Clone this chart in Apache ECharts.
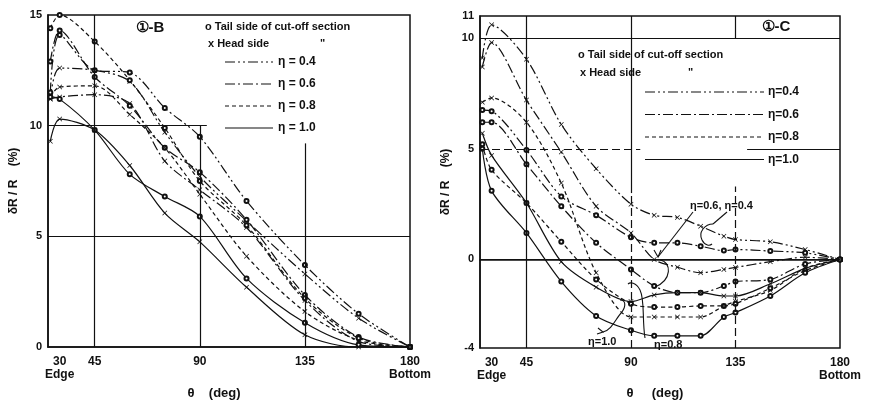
<!DOCTYPE html>
<html>
<head>
<meta charset="utf-8">
<script src="https://cdn.jsdelivr.net/npm/echarts@6/dist/echarts.min.js"></script>
<style>
  html, body { margin: 0; padding: 0; background: #fff; }
  #main { width: 875px; height: 406px; }
</style>
</head>
<body>
<div id="main"></div>
<script>
var myChart = echarts.init(document.getElementById('main'));

// theta positions of the measured points (deg)
var thetaB = [26, 30, 45, 60, 75, 90, 110, 135, 158, 180];
var thetaC = [26, 30, 45, 60, 75, 90, 100, 110, 120, 130, 135, 150, 165, 180];

// panel 1-B, dR/R (%)
var b04tail = [11.5, 14.1, 12.5, 12.4, 10.8, 9.5, 6.6, 3.7, 1.5, 0];
var b04head = [11.2, 12.6, 12.5, 12.0, 9.7, 7.7, 5.7, 3.3, 1.3, 0];
var b06tail = [12.9, 14.3, 12.2, 10.9, 9.0, 7.9, 5.75, 2.35, 0.45, 0];
var b06head = [11.2, 11.3, 11.4, 11.0, 8.4, 7.1, 5.4, 2.1, 0.25, 0];
var b08tail = [14.4, 15.0, 13.8, 12.05, 9.9, 7.5, 5.5, 2.2, 0.4, 0];
var b08head = [11.3, 11.75, 11.8, 10.5, 9.0, 6.9, 4.1, 1.6, 0.3, 0];
var b10tail = [11.3, 11.2, 9.8, 7.8, 6.8, 5.9, 3.1, 1.1, 0.1, 0];
var b10head = [9.3, 10.3, 9.8, 8.2, 6.05, 4.75, 2.7, 0.55, 0.0, 0];

// panel 1-C, dR/R (%)
var c04tail = [6.75, 6.7, 4.95, 2.85, 2.0, 1.0, 0.75, 0.75, 0.6, 0.4, 0.45, 0.38, 0.3, 0];
var c04head = [9.1, 10.6, 9.05, 6.1, 4.1, 2.5, 2.0, 1.9, 1.5, 1.05, 0.9, 0.8, 0.45, 0];
var c06tail = [6.2, 6.2, 4.3, 2.4, 0.75, -0.45, -1.2, -1.5, -1.5, -1.2, -1.0, -0.9, -0.2, 0];
var c06head = [8.7, 9.8, 7.2, 4.85, 2.4, 1.2, 0.0, -0.35, -0.6, -0.45, -0.36, -0.1, 0.1, 0];
var c08tail = [5.2, 4.05, 2.55, 0.8, -0.9, -2.0, -2.15, -2.15, -2.1, -2.1, -2.0, -1.3, -0.5, 0];
var c08head = [7.1, 7.3, 6.2, 3.45, -0.6, -2.6, -2.6, -2.6, -2.6, -2.1, -1.9, -1.4, -0.4, 0];
var c10tail = [5.0, 3.1, 1.2, -1.0, -2.55, -3.2, -3.45, -3.45, -3.45, -2.6, -2.4, -1.65, -0.6, 0];
var c10head = [5.7, 4.7, 2.55, -0.1, -1.25, -1.9, -1.6, -1.5, -1.5, -1.65, -1.65, -1.1, -0.4, 0];

var xTicks = [30, 45, 90, 135, 180];
var yTicksB = [0, 5, 10, 15];
var yTicksC = [-4, 0, 5, 10, 11];

var dash04 = [10, 3, 2, 3, 2, 3];
var dash06 = [10, 3, 2, 3];
var dash08 = [4, 3];
var crossPath = 'path://M0,1L1,0L5,4L9,0L10,1L6,5L10,9L9,10L5,6L1,10L0,9L4,5Z';
var font = 'Liberation Sans, Arial, sans-serif';

function pairs(xs, ys) {
  return xs.map(function (x, i) { return [x, ys[i]]; });
}

function curve(idx, xs, ys, dash, isHead) {
  return {
    type: 'line',
    xAxisIndex: idx,
    yAxisIndex: idx,
    data: pairs(xs, ys),
    smooth: 0.3,
    showAllSymbol: true,
    symbol: isHead ? crossPath : 'emptyCircle',
    symbolSize: isHead ? 5 : 4,
    lineStyle: { color: '#111', width: 1.2, type: dash },
    itemStyle: { color: '#111', borderColor: '#111', borderWidth: isHead ? 0 : 0.9 },
    silent: true,
    z: 3
  };
}

function seg(x1, y1, x2, y2, dashed) {
  return [
    { coord: [x1, y1], lineStyle: { type: dashed ? [8, 4] : 'solid' } },
    { coord: [x2, y2] }
  ];
}

function gridLines(idx, data) {
  return {
    type: 'line',
    xAxisIndex: idx,
    yAxisIndex: idx,
    data: [],
    markLine: {
      silent: true,
      symbol: 'none',
      label: { show: false },
      lineStyle: { color: '#111', width: 1.2, type: 'solid' },
      data: data
    }
  };
}

function xAxisFor(idx) {
  return {
    type: 'value', gridIndex: idx, min: 25, max: 180,
    axisLine: { show: true, lineStyle: { color: '#111', width: 1.5 } },
    axisTick: { show: false },
    splitLine: { show: false },
    axisLabel: {
      customValues: xTicks,
      color: '#111', fontFamily: font, fontWeight: 'bold', fontSize: 12, lineHeight: 13,
      formatter: function (v) {
        if (v === 30) return '30\nEdge';
        if (v === 180) return '180\nBottom';
        return String(v);
      }
    }
  };
}

function yAxisFor(idx, min, max, ticks) {
  return {
    type: 'value', gridIndex: idx, min: min, max: max,
    name: 'δR / R    (%)', nameLocation: 'middle', nameGap: 28, nameRotate: 90,
    nameTextStyle: { color: '#111', fontFamily: font, fontWeight: 'bold', fontSize: 12 },
    axisLine: { show: true, lineStyle: { color: '#111', width: 1.5 } },
    axisTick: { show: false },
    splitLine: { show: false },
    axisLabel: {
      customValues: ticks, margin: 6,
      color: '#111', fontFamily: font, fontWeight: 'bold', fontSize: 11
    }
  };
}

function legendBlock(x0, x1, xt, y0, dy, labels) {
  var dashes = [dash04, dash06, dash08, null];
  var out = [];
  dashes.forEach(function (d, i) {
    var y = y0 + i * dy;
    var st = { stroke: '#111', lineWidth: 1.2 };
    if (d) st.lineDash = d;
    out.push({ type: 'line', z: 10, shape: { x1: x0, y1: y, x2: x1, y2: y }, style: st });
    out.push(txt(xt, y, labels[i], 12));
  });
  return out;
}

function txt(x, y, s, size, align) {
  return {
    type: 'text', x: x, y: y, z: 10,
    style: { text: s, fill: '#111', font: 'bold ' + (size || 11) + 'px ' + font,
      align: align || 'left', verticalAlign: 'middle' }
  };
}

function ln(x1, y1, x2, y2) {
  return { type: 'line', z: 10, shape: { x1: x1, y1: y1, x2: x2, y2: y2 },
    style: { stroke: '#111', lineWidth: 1.1 } };
}

function poly(pts) {
  return { type: 'polyline', z: 10, shape: { points: pts },
    style: { stroke: '#111', lineWidth: 1.1, fill: null } };
}

function bz(x1, y1, c1x, c1y, c2x, c2y, x2, y2) {
  return { type: 'bezierCurve', z: 10,
    shape: { x1: x1, y1: y1, cpx1: c1x, cpy1: c1y, cpx2: c2x, cpy2: c2y, x2: x2, y2: y2 },
    style: { stroke: '#111', lineWidth: 1.1, fill: null } };
}

var graphics = [
  txt(150, 28, '①-B', 15, 'center'),
  txt(205, 27, 'o Tail side of cut-off section'),
  txt(208, 44, 'x Head side'),
  txt(320, 44, '"'),
  txt(776, 27, '①-C', 15, 'center'),
  txt(578, 55, 'o Tail side of cut-off section'),
  txt(580, 73, 'x Head side'),
  txt(688, 73, '"'),
  txt(214, 393, 'θ    (deg)', 13, 'center'),
  txt(655, 393, 'θ     (deg)', 13, 'center'),
  txt(690, 206, 'η=0.6, η=0.4', 11),
  txt(588, 342, 'η=1.0', 11),
  txt(654, 345, 'η=0.8', 11),
  ln(693, 212, 658, 257),
  poly([[654, 250], [658, 257], [661, 250]]),
  ln(727, 212, 713, 224),
  bz(713, 224, 705, 224, 698, 232, 702, 240),
  bz(702, 240, 705, 246, 710, 246, 712, 244),
  bz(660, 260, 672, 262, 672, 280, 655, 287),
  bz(603, 332, 612, 330, 616, 318, 622, 312),
  bz(622, 312, 626, 306, 626, 300, 620, 300),
  poly([[598, 328], [603, 332], [597, 334]]),
  bz(645, 338, 642, 320, 645, 300, 640, 290),
  bz(640, 290, 636, 282, 630, 282, 628, 284)
].concat(
  legendBlock(225, 273, 278, 62, 22, ['η = 0.4', 'η = 0.6', 'η = 0.8', 'η = 1.0']),
  legendBlock(645, 764, 768, 92, 22.5, ['η=0.4', 'η=0.6', 'η=0.8', 'η=1.0'])
);

var option = {
  animation: false,
  backgroundColor: '#fff',
  grid: [
    { left: 48, right: 465, top: 15, bottom: 59, show: true, borderColor: '#111', borderWidth: 1.5, backgroundColor: 'transparent' },
    { left: 480, right: 35, top: 16, bottom: 58, show: true, borderColor: '#111', borderWidth: 1.5, backgroundColor: 'transparent' }
  ],
  xAxis: [xAxisFor(0), xAxisFor(1)],
  yAxis: [yAxisFor(0, 0, 15, yTicksB), yAxisFor(1, -4, 11, yTicksC)],
  graphic: graphics,
  series: [
    gridLines(0, [
      seg(45, 0, 45, 15), seg(90, 0, 90, 10), seg(135, 0, 135, 9.2),
      seg(25, 5, 180, 5), seg(25, 10, 93, 10)
    ]),
    gridLines(1, [
      seg(45, -4, 45, 11), seg(90, 3, 90, 11), seg(90, -4, 90, 3, true),
      seg(135, 10, 135, 11), seg(135, -4, 135, 3.3, true),
      seg(25, 0, 180, 0), seg(25, 10, 180, 10),
      seg(25, 5, 94, 5, true), seg(140, 5, 180, 5)
    ]),
    curve(0, thetaB, b04tail, dash04, false),
    curve(0, thetaB, b04head, dash04, true),
    curve(0, thetaB, b06tail, dash06, false),
    curve(0, thetaB, b06head, dash06, true),
    curve(0, thetaB, b08tail, dash08, false),
    curve(0, thetaB, b08head, dash08, true),
    curve(0, thetaB, b10tail, 'solid', false),
    curve(0, thetaB, b10head, 'solid', true),
    curve(1, thetaC, c04tail, dash04, false),
    curve(1, thetaC, c04head, dash04, true),
    curve(1, thetaC, c06tail, dash06, false),
    curve(1, thetaC, c06head, dash06, true),
    curve(1, thetaC, c08tail, dash08, false),
    curve(1, thetaC, c08head, dash08, true),
    curve(1, thetaC, c10tail, 'solid', false),
    curve(1, thetaC, c10head, 'solid', true)
  ]
};
myChart.setOption(option);
</script>
</body>
</html>
